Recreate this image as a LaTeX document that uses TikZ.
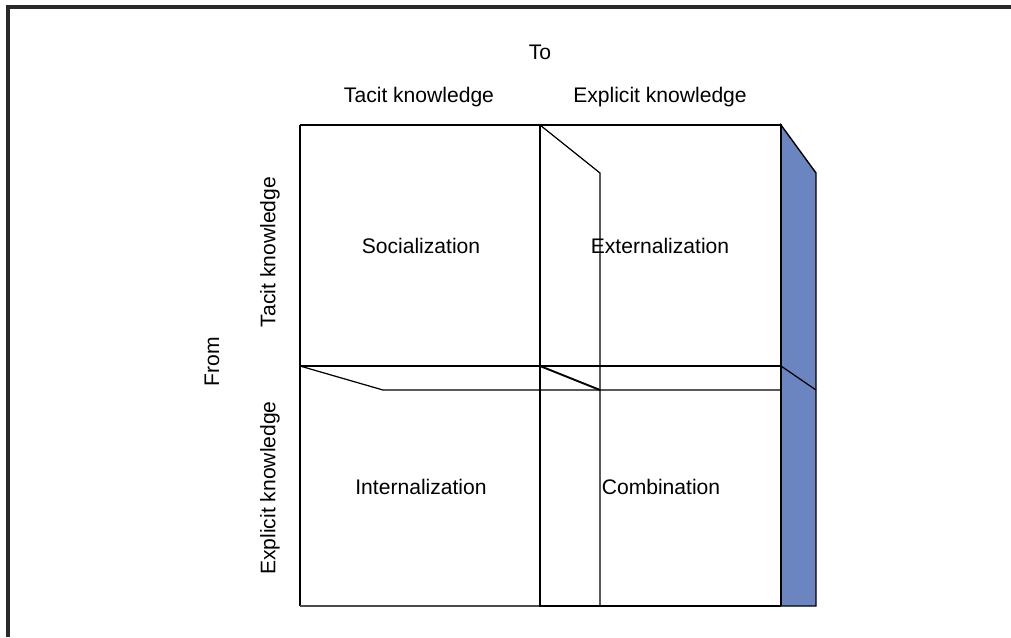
\documentclass[tikz,border=0pt]{standalone}
\usepackage{fontspec}
\setmainfont{Liberation Sans}
\usepackage{tikz}
\usetikzlibrary{positioning}
\definecolor{sideblue}{HTML}{6B85C1}
\definecolor{framegray}{HTML}{2A2A2A}

\begin{document}
\begin{tikzpicture}[
    x=0.02cm, y=-0.02cm,
    frame/.style = {draw=framegray, line width=2pt},
    thin/.style  = {draw=black, line width=0.7pt},
    thick/.style = {draw=black, line width=1.1pt},
    side/.style  = {fill=sideblue, draw=black, line width=0.8pt},
    lbl/.style   = {font=\fontsize{12}{14}\selectfont, inner sep=0pt},
    quad/.style  = {font=\fontsize{12}{14}\selectfont, inner sep=0pt}
  ]

  \useasboundingbox (0,0) rectangle (1011,637);

  % ── Outer frame (top and left only) ────────────────────────────────────────
  \draw[frame] (8,637) -- (8,7) -- (1011,7);

  % ── Grid corners ───────────────────────────────────────────────────────────
  \coordinate (tl) at (300,125);
  \coordinate (tm) at (540,125);
  \coordinate (tr) at (781,125);
  \coordinate (bl) at (300,606);
  \coordinate (bm) at (540,606);
  \coordinate (br) at (781,606);
  \coordinate (ml) at (300,366);
  \coordinate (mm) at (540,366);
  \coordinate (mr) at (781,366);

  % ── Blue side face ─────────────────────────────────────────────────────────
  \draw[side] (tr) -- (816,173) -- (816,606) -- (br) -- cycle;
  \draw[thin] (mr) -- (816,390);

  % ── Left column ────────────────────────────────────────────────────────────
  \draw[thin] (tl) -- (tm);
  \draw[thin] (tl) -- (bl);
  \draw[draw=black!70, line width=0.7pt] (bl) -- (bm);

  % ── Right column ───────────────────────────────────────────────────────────
  \draw[thin] (tm) -- (tr) -- (br);
  \draw[thick] (tm) -- (bm) -- (br);
  \draw[thin] (tm) -- (600,173) -- (600,606);

  % ── Middle band ────────────────────────────────────────────────────────────
  \draw[thick] (ml) -- (mr);
  \draw[thin] (ml) -- (383,390) -- (781,390);
  \draw[thick] (mm) -- (600,390);

  % ── Headers ────────────────────────────────────────────────────────────────
  \node[lbl] (to)       at (540, 52) {To};
  \node[lbl] (totacit)  at (419, 97) {Tacit knowledge};
  \node[lbl] (toexpl)   at (660, 97) {Explicit knowledge};
  \node[lbl, rotate=90] (from)      at (212,362) {From};
  \node[lbl, rotate=90] (fromtacit) at (270,252) {Tacit knowledge};
  \node[lbl, rotate=90] (fromexpl)  at (270,488) {Explicit knowledge};

  % ── Quadrants ──────────────────────────────────────────────────────────────
  \node[quad] (social)   at (421,246) {Socialization};
  \node[quad] (external) at (660,246) {Externalization};
  \node[quad] (internal) at (421,487) {Internalization};
  \node[quad] (combine)  at (661,487) {Combination};

\end{tikzpicture}
\end{document}
